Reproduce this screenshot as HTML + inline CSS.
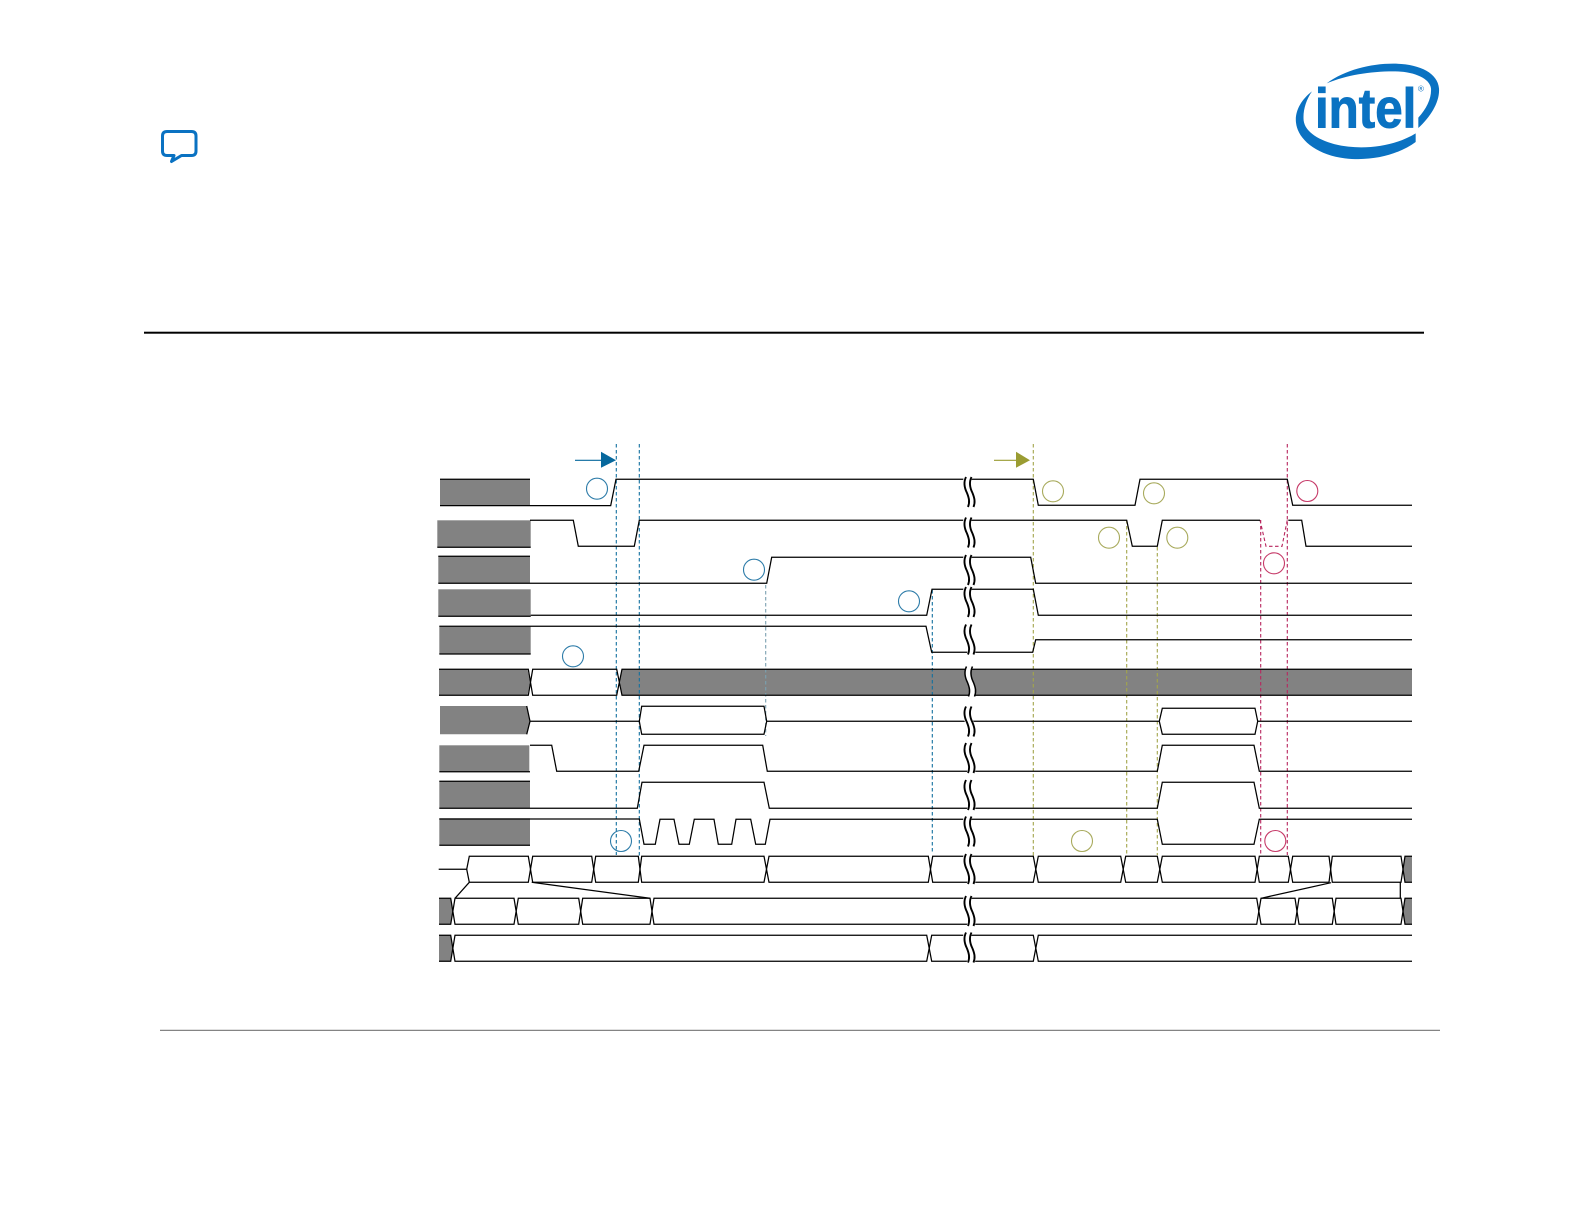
<!DOCTYPE html>
<html><head><meta charset="utf-8"><style>html,body{margin:0;padding:0;background:#fff}svg{display:block}</style></head>
<body>
<svg xmlns="http://www.w3.org/2000/svg" width="1584" height="1224" viewBox="0 0 1584 1224">
<defs>
<g id="brk">
<path d="M968.500,-1C965.500,6 967.500,12 969.500,16C971.500,21 972.500,25 970.500,31" fill="none" stroke="#fff" stroke-width="8"/>
<path d="M966,0C963,6 965,12 967,16C969,21 970,25 968,30M971.500,0C968.500,6 970.500,12 972.500,16C974.500,21 975.500,25 973.500,30" fill="none" stroke="#000" stroke-width="1.900"/>
</g>
<g id="brkb">
<path d="M969.500,-1C966.500,6 968.500,12 970.500,16C972.500,21 973.500,25 971.500,31" fill="none" stroke="#fff" stroke-width="5.500"/>
<path d="M966.500,0C963.500,6 965.500,12 967.500,16C969.500,21 970.500,25 968.500,30M972.500,0C969.500,6 971.500,12 973.500,16C975.500,21 976.500,25 974.500,30" fill="none" stroke="#000" stroke-width="1.500"/>
</g>
</defs>
<rect width="1584" height="1224" fill="#fff"/>

<!-- rules -->
<rect x="144" y="331.700" width="1280" height="2" fill="#000"/>
<rect x="160" y="1029.800" width="1280" height="1" fill="#666"/>

<!-- speech bubble -->
<path d="M167,131.500H191.500Q196,131.500 196,136V151Q196,155.500 191.500,155.500H181.500L171.500,161.500L174,155.500H167Q162.500,155.500 162.500,151V136Q162.500,131.500 167,131.500Z" fill="none" stroke="#0a72c2" stroke-width="3" stroke-linejoin="round"/>

<!-- logo -->
<g transform="translate(1270,50) scale(0.33333)" fill="#0a72c2">
<path d="M126,124C92,150 74,185 78,218C83,268 140,315 225,325C310,335 388,312 437,276L437,250C385,282 310,298 235,290C165,282 106,252 101,212C98,182 108,150 126,124Z"/>
<path d="M170,100C225,60 300,41 370,41C447,41 503,68 507,115C510,155 482,200 445,234L445,203C470,175 485,145 483,115C479,84 430,64 370,64C300,64 230,75 170,100Z"/>
<text x="135" y="232" font-family="'Liberation Sans',sans-serif" font-weight="700" font-size="166" textLength="304" lengthAdjust="spacingAndGlyphs" stroke="#0a72c2" stroke-width="3">intel</text>
<text x="444" y="124" font-family="'Liberation Sans',sans-serif" font-size="24">®</text>
</g>

<!-- gray label blocks -->
<g fill="#828282">
<rect x="440" y="479.300" width="90" height="26.500"/>
<rect x="437.300" y="520.300" width="93.400" height="27"/>
<rect x="438.300" y="556.300" width="91.700" height="27"/>
<rect x="438.300" y="589.300" width="92.400" height="27"/>
<rect x="439.300" y="626.700" width="91.400" height="27.300"/>
<polygon points="439,669.300 527.500,669.300 530,682.300 527.500,695.300 439,695.300"/>
<polygon points="622,669.300 1412,669.300 1412,695.300 622,695.300 620,682"/>
<polygon points="440,706 526.700,706 530,721.300 526.700,734.300 440,734.300"/>
<rect x="439.300" y="745.300" width="90" height="26.400"/>
<rect x="439.300" y="781.300" width="90.700" height="27"/>
<rect x="439.300" y="818.300" width="90.700" height="27"/>
<polygon points="439,898.300 450.700,898.300 453,911.300 450.700,924.300 439,924.300"/>
<polygon points="439,935.300 450.700,935.300 453,948.300 450.700,961.300 439,961.300"/>
<polygon points="1405,856.300 1412,856.300 1412,882.300 1405,882.300 1403,869.300"/>
<polygon points="1405,898.300 1412,898.300 1412,924.300 1405,924.300 1403,911.300"/>
</g>

<!-- dashed guides -->
<g fill="none" stroke-width="1.100" stroke-dasharray="3.500 2.500">
<path stroke="#12709f" d="M616.300,444V855M639.300,444V856M932.300,590V853"/>
<path stroke="#7aa0b0" d="M765.700,585V736"/>
<path stroke="#a3a54a" d="M1033.300,444V856M1126.700,520V855M1157.300,547V855"/>
<path stroke="#b8265e" d="M1260.700,520V855M1287.300,444V855M1260,520L1266,546.300H1282L1287.300,520"/>
</g>

<!-- signals -->
<g fill="none" stroke="#000" stroke-width="1.250">
<path d="M440,479.300H530M440,505.600H610.700L616,479.300H1033.300L1038.300,505.300H1135L1140,479.300H1287.300L1292.700,505.300H1412"/>
<path d="M530,520.300H573.300L578.300,546.300H634.300L639.300,520.300H1126.700L1132.300,546.300H1157.300L1162.300,520.300H1260M1288.300,520.300H1301.700L1306,546.300H1412M437.300,547.300H530.700"/>
<path d="M438.300,556.300H530M438.300,583.300H766.700L771.700,557.300H1030.700L1035.700,583.300H1412"/>
<path d="M438.300,616.300H530.700M530.700,615.300H926.700L932,589.300H1033.300L1038.300,615.300H1412"/>
<path d="M439.300,654H530.700M439.300,626.300H926L931.700,652.300H1032.700L1035.700,639.700H1412"/>
<path d="M439,669.300H528.300L532.700,695.300H616.700L622,669.300H1412M439,695.300H528.300L532.700,669.300H616.700L622,695.300H1412"/>
<path d="M526.700,706L530,721.300H639.300L641.700,706.300H764L766.700,721.300H1159.300L1162.300,708.300H1255L1257.700,721.300H1412M526.700,734.300L530,721.300M639.300,721.300L641.700,734.300H764L766.700,721.300M1159.300,721.300L1162.300,734.300H1255L1257.700,721.300"/>
<path d="M530,745.300H551.700L556.700,771.300H638.700L644,745.300H762.700L767.300,771.300H1157.300L1162.300,745.300H1254L1259.300,771.300H1412M439.300,771.700H530"/>
<path d="M439.300,781.300H530M439.300,808.300H637.300L642,782.300H764L769.300,808.300H1157.300L1162.300,782.300H1254L1259.300,808.300H1412"/>
<path d="M439.300,819H639.300L644,844.300H655.300L660,819.300H674L679,844.300H689.300L694.300,819.300H714L718.300,844.300H731.700L736,819.300H750.700L755.700,844.300H765.300L770,819.300H1157.300L1162.300,844.300H1254L1259.300,819.300H1412M439.300,845.300H530"/>

<!-- bus 11 -->
<path d="M438.700,869.300H466.700L469.300,856.300H528.300L532.700,882.300H591.700L595.700,856.300H638.300L641.700,882.300H764L769,856.300H928.300L932.700,882.300H1033.300L1038.300,856.300H1120.700L1125.700,882.300H1157.300L1162.300,856.300H1255L1259.300,882.300H1288.300L1292.700,856.300H1329L1332.300,882.300H1401L1405,856.300H1412"/>
<path d="M466.700,869.300L469.300,882.300H528.300L532.700,856.300H591.700L595.700,882.300H638.300L641.700,856.300H764L769,882.300H928.300L932.700,856.300H1033.300L1038.300,882.300H1120.700L1125.700,856.300H1157.300L1162.300,882.300H1255L1259.300,856.300H1288.300L1292.700,882.300H1329L1332.300,856.300H1401L1405,882.300H1412"/>
<!-- links -->
<path d="M469.300,882.300L455,898.300M531.700,882.300L650,898.300M1261,898.300L1331,882.700M1400.300,882.300V898.300"/>
<!-- bus 12 -->
<path d="M439,898.300H450.700L455,924.300H514L518.300,898.300H578.700L582.700,924.300H650L654,898.300H1256.700L1261,924.300H1295L1299,898.300H1332.300L1336,924.300H1401L1405,898.300H1412"/>
<path d="M439,924.300H450.700L455,898.300H514L518.300,924.300H578.700L582.700,898.300H650L654,924.300H1256.700L1261,898.300H1295L1299,924.300H1332.300L1336,898.300H1401L1405,924.300H1412"/>
<!-- bus 13 -->
<path d="M439,935.300H450.700L455,961.300H926.700L931.700,935.300H1033.300L1038.300,961.300H1412"/>
<path d="M439,961.300H450.700L455,935.300H926.700L931.700,961.300H1033.300L1038.300,935.300H1412"/>
</g>

<!-- break marks -->
<use href="#brk" transform="translate(0,477)"/>
<use href="#brk" transform="translate(0,517.500)"/>
<use href="#brk" transform="translate(0,555)"/>
<use href="#brk" transform="translate(0,587)"/>
<use href="#brk" transform="translate(0,624.500)"/>
<use href="#brkb" transform="translate(0,666.500)"/>
<use href="#brk" transform="translate(0,706.500)"/>
<use href="#brk" transform="translate(0,743)"/>
<use href="#brk" transform="translate(0,780)"/>
<use href="#brk" transform="translate(0,816.500)"/>
<use href="#brk" transform="translate(0,854)"/>
<use href="#brk" transform="translate(0,896)"/>
<use href="#brk" transform="translate(0,932.500)"/>

<!-- arrows -->
<path d="M575,460.300H602" stroke="#07689d" stroke-width="1.200"/>
<polygon points="601,451.700 616,460.300 601,467.700" fill="#07689d"/>
<path d="M994,460.300H1017" stroke="#9a9c32" stroke-width="1.200"/>
<polygon points="1016,451.700 1030,460.300 1016,467.700" fill="#9a9c32"/>

<!-- circles -->
<g fill="none" stroke-width="1.100">
<g stroke="#2c7ba8">
<circle cx="597" cy="488.700" r="10.500"/>
<circle cx="754" cy="569.700" r="10.500"/>
<circle cx="909" cy="601.300" r="10.500"/>
<circle cx="573" cy="656.300" r="10.500"/>
<circle cx="621" cy="841" r="10.500"/>
</g>
<g stroke="#a8aa5c">
<circle cx="1053" cy="491.300" r="10.500"/>
<circle cx="1109" cy="537.700" r="10.500"/>
<circle cx="1154" cy="493.300" r="10.500"/>
<circle cx="1177.300" cy="537.700" r="10.500"/>
<circle cx="1082" cy="841" r="10.500"/>
</g>
<g stroke="#c63a68">
<circle cx="1307.300" cy="491" r="10.500"/>
<circle cx="1274" cy="563.300" r="10.500"/>
<circle cx="1275.300" cy="841" r="10.500"/>
</g>
</g>
</svg>
</body></html>
